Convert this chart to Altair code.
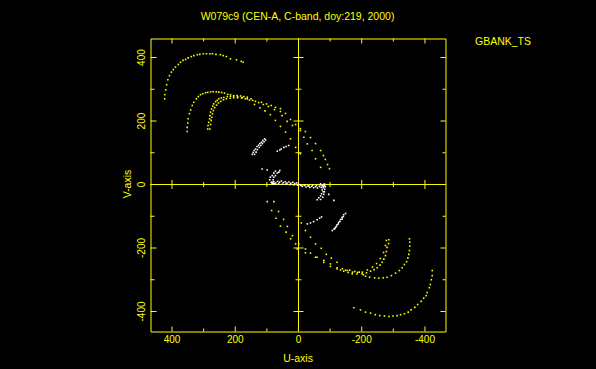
import altair as alt
import pandas as pd

# page background black (the reference has no white margin)
try:
    import altair.utils.html as _ah

    _orig_template = _ah.TEMPLATES["standard"]

    class _BlackPage:
        def render(self, **kw):
            html = _orig_template.render(**kw)
            style = "<style>html,body{background:#000000;overflow:hidden;}</style>"
            if "<head>" in html:
                return html.replace("<head>", "<head>" + style, 1)
            return style + html

    _ah.TEMPLATES["standard"] = _BlackPage()
except Exception:
    pass

YELLOW = "#ffff00"
WHITE = "#ffffff"
FONT = "Liberation Sans"

TITLE = "W079c9 (CEN-A, C-band, doy:219, 2000)"
SIDE_LABEL = "GBANK_TS"
X_TITLE = "U-axis"
Y_TITLE = "V-axis"

MAJOR_TICKS = [-400, -200, 0, 200, 400]
MINOR_TICKS = [-300, -100, 100, 300]
TICK_LABELS = ["-400", "-200", "0", "200", "400"]

U_DOMAIN = [-465, 468]
V_DOMAIN = [-463, 460]

# ---- yellow tracks (u, v) ----
Y1U_U = [423, 423, 420, 417, 413, 408, 402, 396, 389, 380, 373, 365, 357, 349, 339,
         331, 320, 312, 301, 291, 280, 272, 261, 247, 238, 228, 215, 196, 181, 175]
Y1U_V = [270, 283, 298, 314, 330, 343, 354, 362, 370, 378, 385, 391, 394, 399, 403,
         406, 409, 410, 412, 412, 412, 412, 410, 409, 406, 403, 396, 393, 388, 385]
Y1L_U = [-423, -423, -420, -417, -414, -407, -404, -396, -388, -377, -368, -356, -347,
         -335, -323, -312, -299, -286, -272, -257, -243, -228, -212, -196, -175]
Y1L_V = [-271, -287, -300, -315, -325, -340, -350, -358, -368, -378, -387, -395, -402,
         -407, -410, -413, -414, -416, -414, -413, -410, -405, -402, -395, -388]

Y2U_U = [352, 352, 350, 349, 345, 341, 336, 331, 323, 317, 310, 303, 294, 287, 278, 270,
         260, 252, 243, 234, 224, 215, 205, 192, 178, 162,
         145, 126, 111, 95, 76, 57, 41, 25, 9, -6, -22, -38, -54, -70, -79, -85, -92, -98]
Y2U_V = [167, 180, 194, 207, 223, 235, 249, 259, 270, 277, 283, 286, 289, 290, 292, 292,
         292, 291, 290, 288, 284, 283, 279, 276, 274, 270,
         265, 258, 252, 246, 236, 230, 224, 205, 189, 176, 167, 148, 129, 107, 91, 79, 63, 50]
Y2L_U = [-351, -352, -352, -351, -349, -346, -342, -335, -328, -319, -307, -294, -280,
         -268, -254, -241, -225, -212, -205, -192, -178, -162,
         -149, -122, -101, -80, -54, -22, 4, 9, 25, 39, 57, 71, 85, 99]
Y2L_V = [-171, -182, -194, -208, -220, -231, -243, -252, -262, -271, -279, -287, -292,
         -294, -295, -294, -292, -289, -284, -276, -274, -270,
         -270, -262, -250, -239, -229, -215, -203, -187, -171, -150, -131, -106, -82, -54]

Y3AU_U = [287, 286, 284, 281, 280, 278, 275, 271, 268, 262, 257, 252, 244, 236, 225, 215,
          205, 194, 183, 173, 162,
          150, 136, 117, 101, 86, 73, 57, 52, 36, 19, -6, -17, -28, -43, -54, -70]
Y3AU_V = [175, 186, 196, 207, 217, 228, 238, 247, 254, 261, 265, 270, 273, 274, 277, 278,
          279, 280, 279, 277, 275,
          270, 262, 259, 254, 249, 243, 239, 217, 199, 186, 170, 149, 128, 107, 81, 54]
Y3BU_U = [280, 278, 276, 274, 272, 269, 265, 259, 253, 246, 237, 228, 216, 205, 193, 180,
          168, 155, 139, 122, 106, 89, 73, 57, 41, 25, 9, -6]
Y3BU_V = [175, 189, 202, 212, 223, 233, 242, 250, 257, 262, 267, 270, 272, 273, 273, 272,
          270, 266, 252, 242, 232, 220, 202, 183, 165, 144, 117, 97]
Y3AL_U = [-286, -285, -280, -278, -275, -270, -265, -258, -249, -239, -228, -215, -201,
          -185, -170, -157, -143, -133, -122, -101, -80, -59, -38, -22, -1,
          19, 35, 47, 63, 78]
Y3AL_V = [-174, -186, -198, -211, -224, -235, -245, -254, -262, -268, -273, -278, -281,
          -282, -281, -277, -273, -269, -266, -258, -245, -229, -216, -203, -187,
          -161, -132, -110, -85, -54]
Y3BL_U = [-278, -275, -269, -259, -247, -234, -218, -202, -187, -171, -155, -139,
          -122, -104, -88, -72, -54, -38, -22, -9]
Y3BL_V = [-176, -192, -214, -233, -249, -260, -269, -276, -277, -276, -271, -265,
          -245, -232, -220, -201, -187, -166, -145, -121]

# ---- white tracks (u, v) ----
W1U_U = [146, 143, 140, 136, 131, 126, 122, 117, 113, 107, 139, 134, 130, 124, 119, 114, 109, 104]
W1U_V = [95, 101, 107, 112, 120, 124, 129, 133, 139, 144, 95, 102, 110, 117, 123, 129, 135, 140]
W1L_U = [-143, -138, -133, -127, -122, -117, -112, -107, -149, -142, -138, -131, -126, -120, -115]
W1L_V = [-95, -103, -110, -119, -127, -135, -140, -145, -91, -101, -109, -116, -124, -132, -139]
W2U_U = [67, 59, 55, 46, 39, 31]
W2U_V = [105, 109, 112, 117, 120, 123]
W2L_U = [-28, -38, -48, -59, -67, -73]
W2L_V = [-124, -121, -117, -111, -106, -102]
W3U_U = [59, 62, 67, 73, 78, 80, 81, 78, 73, 78, 83, 89, 91, 86, 83, 115, 99]
W3U_V = [44, 39, 36, 28, 23, 15, 7, 2, 42, 36, 28, 23, 15, 7, 2, 49, 46]
W3L_U = [-70, -75, -78, -75, -78, -73, -70, -64, -59, -82, -85, -83, -82, -80, -77, -70, -96, -112]
W3L_V = [2, -3, -10, -17, -23, -29, -36, -42, -48, 2, -6, -15, -23, -31, -40, -47, -31, -50]
W4_U = [84, 78, 72, 66, 60, 54, 48, 42, 36, 30, 24, 18, 12, 6, 0, -6, -12, -18, -24, -30,
        -36, -42, -48, -54, -60, -66, -72, -78, -84,
        75, 63, 51, 39, 27, 15, 3, -9, -21, -33, -45, -57, -69, -81]
W4_V = [6, 9, 5, 10, 7, 11, 6, 9, 5, 8, 4, 7, 3, 5, 1, -2, -6, -3, -8, -5,
        -9, -6, -10, -7, -11, -6, -9, -5, -7,
        2, 3, 1, 2, 0, -1, -2, -3, -1, -4, -2, -3, -1, -2]

TRACKS = [
    ("yellow", Y1U_U, Y1U_V), ("yellow", Y1L_U, Y1L_V),
    ("yellow", Y2U_U, Y2U_V), ("yellow", Y2L_U, Y2L_V),
    ("yellow", Y3AU_U, Y3AU_V), ("yellow", Y3BU_U, Y3BU_V),
    ("yellow", Y3AL_U, Y3AL_V), ("yellow", Y3BL_U, Y3BL_V),
    ("white", W1U_U, W1U_V), ("white", W1L_U, W1L_V),
    ("white", W2U_U, W2U_V), ("white", W2L_U, W2L_V),
    ("white", W3U_U, W3U_V), ("white", W3L_U, W3L_V),
    ("white", W4_U, W4_V),
]

frames = []
for i, (col, us, vs) in enumerate(TRACKS):
    frames.append(pd.DataFrame({"u": us, "v": vs, "color": col, "track": i}))
points_df = pd.concat(frames, ignore_index=True)

W, H = 295, 293
xs = alt.Scale(domain=U_DOMAIN, reverse=True, nice=False, zero=False)
ys = alt.Scale(domain=V_DOMAIN, nice=False, zero=False)

points = alt.Chart(points_df).mark_square(size=2.5, opacity=1).encode(
    x=alt.X("u:Q", scale=xs, axis=None),
    y=alt.Y("v:Q", scale=ys, axis=None),
    color=alt.Color("color:N", scale=alt.Scale(domain=["yellow", "white"], range=[YELLOW, WHITE]), legend=None),
)

zero_df = pd.DataFrame({"z": [0]})
zero_v = alt.Chart(zero_df).mark_rule(color=YELLOW, strokeWidth=1).encode(x=alt.X("z:Q", scale=xs, axis=None))
zero_h = alt.Chart(zero_df).mark_rule(color=YELLOW, strokeWidth=1).encode(y=alt.Y("z:Q", scale=ys, axis=None))


def tick_layer(values, orient, size, **enc):
    df = pd.DataFrame({"t": values, "z": [0] * len(values)})
    return alt.Chart(df).mark_tick(orient=orient, size=size, thickness=1, color=YELLOW,
                                   opacity=1, clip=True).encode(**enc)


nz_major = [t for t in MAJOR_TICKS if t != 0]
tx = lambda: alt.X("t:Q", scale=xs, axis=None)
ty = lambda: alt.Y("t:Q", scale=ys, axis=None)
zx = lambda: alt.X("z:Q", scale=xs, axis=None)
zy = lambda: alt.Y("z:Q", scale=ys, axis=None)

ticks = [
    # top frame
    tick_layer(MAJOR_TICKS, "vertical", 10, x=tx(), y=alt.value(0)),
    tick_layer(MINOR_TICKS, "vertical", 6, x=tx(), y=alt.value(0)),
    # bottom frame
    tick_layer(MAJOR_TICKS, "vertical", 10, x=tx(), y=alt.value(H)),
    tick_layer(MINOR_TICKS, "vertical", 6, x=tx(), y=alt.value(H)),
    # left frame
    tick_layer(MAJOR_TICKS, "horizontal", 12, y=ty(), x=alt.value(0)),
    tick_layer(MINOR_TICKS, "horizontal", 8, y=ty(), x=alt.value(0)),
    # right frame
    tick_layer(MAJOR_TICKS, "horizontal", 10, y=ty(), x=alt.value(W)),
    tick_layer(MINOR_TICKS, "horizontal", 6, y=ty(), x=alt.value(W)),
    # on the v = 0 line
    tick_layer(nz_major, "vertical", 9, x=tx(), y=zy()),
    tick_layer(MINOR_TICKS, "vertical", 5, x=tx(), y=zy()),
    # on the u = 0 line
    tick_layer(nz_major, "horizontal", 10, y=ty(), x=zx()),
    tick_layer(MINOR_TICKS, "horizontal", 6, y=ty(), x=zx()),
]

lab_df = pd.DataFrame({"t": MAJOR_TICKS, "label": TICK_LABELS})
xlabels = alt.Chart(lab_df).mark_text(color=YELLOW, font=FONT, fontSize=10, align="center",
                                      baseline="middle").encode(
    x=tx(), y=alt.value(301), text="label:N")
ylabels = alt.Chart(lab_df).mark_text(color=YELLOW, font=FONT, fontSize=10, align="center",
                                      baseline="middle", angle=270).encode(
    y=ty(), x=alt.value(-9), text="label:N")


def text_layer(txt, x, y, align="center", angle=0, size=10.5):
    return alt.Chart(pd.DataFrame({"s": [txt]})).mark_text(
        color=YELLOW, font=FONT, fontSize=size, align=align, baseline="middle", angle=angle
    ).encode(x=alt.value(x), y=alt.value(y), text="s:N")


texts = [
    text_layer(TITLE, 147, -22),
    text_layer(SIDE_LABEL, 324.5, 3.5, align="left"),
    text_layer(X_TITLE, 147.5, 320),
    text_layer(Y_TITLE, -22.5, 145.5, angle=270),
]

chart = alt.layer(zero_v, zero_h, *ticks, points, xlabels, ylabels, *texts).properties(
    width=W, height=H,
    padding={"left": 142.5, "top": 30.5, "right": 142.5, "bottom": 36.5},
    autosize=alt.AutoSizeParams(type="none"),
).configure(background="#000000").configure_view(stroke=YELLOW, strokeWidth=1)

chart.save("out.html", embed_options={"renderer": "svg", "actions": False})
